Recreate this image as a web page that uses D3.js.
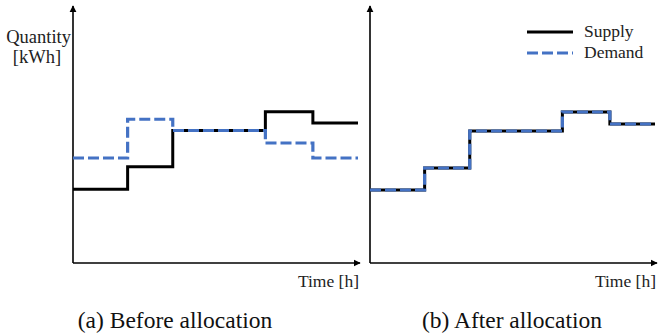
<!DOCTYPE html>
<html>
<head>
<meta charset="utf-8">
<script src="https://cdn.jsdelivr.net/npm/d3@7"></script>
<style>
  body { margin: 0; background: #fff; }
</style>
</head>
<body>
<svg id="chart" width="658" height="336"></svg>
<script>
// step boundaries in hours
var hours = [0, 1.15, 2.1, 4.05, 5.05, 6];
// quantity per interval (arbitrary kWh units)
var supplyBefore = [2.95, 3.85, 5.3, 6.05, 5.6];
var demandBefore = [4.2, 5.75, 5.3, 4.8, 4.2];
var supplyAfter = [2.92, 3.8, 5.28, 6.04, 5.56];
var demandAfter = [2.92, 3.8, 5.28, 6.04, 5.56];
var panels = [
  {caption: "(a) Before allocation", supply: supplyBefore, demand: demandBefore, left: 73, right: 358},
  {caption: "(b) After allocation", supply: supplyAfter, demand: demandAfter, left: 370, right: 655}
];
var legendLabels = ["Supply", "Demand"];

var svg = d3.select("#chart");
var blue = "#4472C4";
var serif = "Liberation Serif";

svg.append("defs").append("marker")
   .attr("id", "arrow")
   .attr("viewBox", "0 0 10 10")
   .attr("refX", 9).attr("refY", 5)
   .attr("markerWidth", 4.5).attr("markerHeight", 4.5)
   .attr("markerUnits", "strokeWidth")
   .attr("orient", "auto")
   .append("path").attr("d", "M0,0L10,5L0,10z").attr("fill", "#000");

var y = d3.scaleLinear().domain([0, 10]).range([263, 13]);

function stepPoints(vals){
     var pts = vals.map(function(v, i){ return [hours[i], v]; });
     pts.push([hours[hours.length-1], vals[vals.length-1]]);
     return pts;
}

panels.forEach(function(p, k){
     var x = d3.scaleLinear().domain([0, 6]).range([p.left, p.right]);
     var g = svg.append("g");
     var line = d3.line().x(function(d){return x(d[0])}).y(function(d){return y(d[1])}).curve(d3.curveStepAfter);

     // axes
     g.append("line")
          .attr("x1", x(0)).attr("y1", y(0))
          .attr("x2", x(0)).attr("y2", 6)
          .attr("stroke", "#000").attr("stroke-width", 1.6)
          .attr("marker-end", "url(#arrow)");
     g.append("line")
          .attr("x1", x(0)).attr("y1", y(0))
          .attr("x2", x(6) + 2).attr("y2", y(0))
          .attr("stroke", "#000").attr("stroke-width", 1.6)
          .attr("marker-end", "url(#arrow)");

     g.append("path")
          .attr("d", line(stepPoints(p.supply)))
          .attr("fill", "none").attr("stroke", "#000")
          .attr("stroke-width", 3);
     g.append("path")
          .attr("d", line(stepPoints(p.demand)))
          .attr("fill", "none").attr("stroke", blue)
          .attr("stroke-width", 3.2)
          .attr("stroke-dasharray", "11,4");

     g.append("text")
          .text("Time [h]")
          .attr("x", x(6) + 1)
          .attr("y", 287)
          .attr("font-family", serif)
          .attr("font-size", "17.5px")
          .attr("fill", "#222")
          .attr("text-anchor", "end");

     g.append("text")
          .text(p.caption)
          .attr("x", k == 0 ? 175 : 512)
          .attr("y", 328)
          .attr("font-family", serif)
          .attr("font-size", "23.5px")
          .attr("fill", "#111")
          .attr("text-anchor", "middle");
});

svg.append("text").text("Quantity")
     .attr("x", 71).attr("y", 43)
     .attr("font-family", serif)
     .attr("font-size", "18.5px").attr("fill", "#222").attr("text-anchor", "end");
svg.append("text").text("[kWh]")
     .attr("x", 37).attr("y", 63)
     .attr("font-family", serif)
     .attr("font-size", "18.5px").attr("fill", "#222").attr("text-anchor", "middle");

// legend
legendLabels.forEach(function(lbl, i){
     var ly = 32 + 21*i;
     svg.append("line")
          .attr("x1", 527).attr("x2", 573)
          .attr("y1", ly).attr("y2", ly)
          .attr("stroke", i == 0 ? "#000" : blue)
          .attr("stroke-width", 3)
          .attr("stroke-dasharray", i == 0 ? null : "11,4");
     svg.append("text").text(lbl)
          .attr("x", 584).attr("y", ly + 5)
          .attr("font-family", serif)
          .attr("font-size", "17.5px")
          .attr("fill", "#222");
});
</script>
</body>
</html>
